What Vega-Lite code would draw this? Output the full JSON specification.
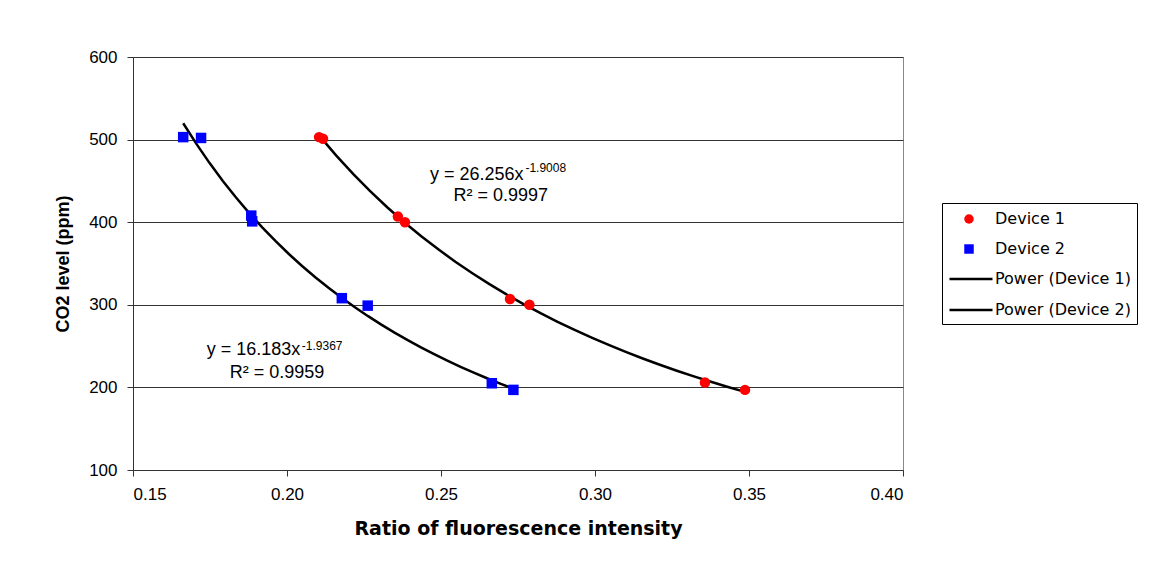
{
  "$schema": "https://vega.github.io/schema/vega-lite/v6.json",
  "width": 770,
  "height": 413,
  "autosize": {"type": "none"},
  "padding": {"left": 133, "top": 57, "right": 258, "bottom": 106},
  "background": "white",
  "config": {
    "font": "Liberation Sans",
    "view": {"stroke": "#888888", "strokeWidth": 1}
  },
  "data": {
    "values": [
      {"ratio": 0.2104, "co2": 503, "device": "Device 1", "trend": "Power (Device 1)"},
      {"ratio": 0.2117, "co2": 501, "device": "Device 1", "trend": "Power (Device 1)"},
      {"ratio": 0.2360, "co2": 407, "device": "Device 1", "trend": "Power (Device 1)"},
      {"ratio": 0.2383, "co2": 400, "device": "Device 1", "trend": "Power (Device 1)"},
      {"ratio": 0.2724, "co2": 307, "device": "Device 1", "trend": "Power (Device 1)"},
      {"ratio": 0.2787, "co2": 300, "device": "Device 1", "trend": "Power (Device 1)"},
      {"ratio": 0.3357, "co2": 206, "device": "Device 1", "trend": "Power (Device 1)"},
      {"ratio": 0.3487, "co2": 197, "device": "Device 1", "trend": "Power (Device 1)"},
      {"ratio": 0.1663, "co2": 503, "device": "Device 2", "trend": "Power (Device 2)"},
      {"ratio": 0.1721, "co2": 502, "device": "Device 2", "trend": "Power (Device 2)"},
      {"ratio": 0.1884, "co2": 408, "device": "Device 2", "trend": "Power (Device 2)"},
      {"ratio": 0.1887, "co2": 401, "device": "Device 2", "trend": "Power (Device 2)"},
      {"ratio": 0.2178, "co2": 308, "device": "Device 2", "trend": "Power (Device 2)"},
      {"ratio": 0.2262, "co2": 299, "device": "Device 2", "trend": "Power (Device 2)"},
      {"ratio": 0.2665, "co2": 205, "device": "Device 2", "trend": "Power (Device 2)"},
      {"ratio": 0.2735, "co2": 197, "device": "Device 2", "trend": "Power (Device 2)"}
    ]
  },
  "layer": [
    {
      "transform": [
        {"regression": "co2", "on": "ratio", "groupby": ["trend"], "method": "pow"}
      ],
      "mark": {"type": "line", "strokeWidth": 2.5},
      "encoding": {
        "x": {"field": "ratio", "type": "quantitative"},
        "y": {"field": "co2", "type": "quantitative"},
        "stroke": {
          "field": "trend",
          "type": "nominal",
          "scale": {
            "domain": ["Power (Device 1)", "Power (Device 2)"],
            "range": ["#000000", "#000000"]
          },
          "legend": {
            "title": " ",
            "titleFontSize": 10,
            "titlePadding": 37,
            "orient": "none",
            "legendX": 809,
            "legendY": 146,
            "direction": "vertical",
            "padding": 6,
            "strokeColor": "#000000",
            "fillColor": "transparent",
            "symbolType": "stroke",
            "symbolSize": 1849,
            "symbolStrokeWidth": 2.5,
            "symbolStrokeColor": "#000000",
            "labelFont": "DejaVu Sans",
            "labelFontSize": 16,
            "labelColor": "#000000",
            "labelOffset": 1,
            "rowPadding": -16
          }
        }
      }
    },
    {
      "mark": {"type": "point", "filled": true, "opacity": 1, "size": 110},
      "encoding": {
        "x": {
          "field": "ratio",
          "type": "quantitative",
          "scale": {"domain": [0.15, 0.40], "nice": false, "zero": false},
          "axis": {
            "title": "Ratio of fluorescence intensity",
            "values": [0.15, 0.2, 0.25, 0.3, 0.35, 0.4],
            "format": ".2f",
            "grid": false,
            "domainColor": "#333333",
            "tickColor": "#333333",
            "tickSize": 6,
            "labelPadding": 10,
            "labelFontSize": 17,
            "labelColor": "#000000",
            "labelFont": "Liberation Sans",
            "titleFont": "DejaVu Sans",
            "titleFontSize": 19,
            "titleFontWeight": "bold",
            "titleColor": "#000000",
            "titlePadding": 17
          }
        },
        "y": {
          "field": "co2",
          "type": "quantitative",
          "scale": {"domain": [100, 600], "nice": false, "zero": false},
          "axis": {
            "title": "CO2 level (ppm)",
            "values": [100, 200, 300, 400, 500, 600],
            "grid": true,
            "gridColor": "#333333",
            "gridWidth": 1,
            "domainColor": "#333333",
            "tickColor": "#333333",
            "tickSize": 6,
            "labelPadding": 10,
            "labelFontSize": 17,
            "labelColor": "#000000",
            "labelFont": "Liberation Sans",
            "titleFont": "Liberation Sans",
            "titleFontSize": 18,
            "titleFontWeight": "bold",
            "titleColor": "#000000",
            "titlePadding": 16
          }
        },
        "color": {
          "field": "device",
          "type": "nominal",
          "scale": {
            "domain": ["Device 1", "Device 2"],
            "range": ["#ff0000", "#0000ff"]
          },
          "legend": {
            "title": null,
            "orient": "none",
            "legendX": 815,
            "legendY": 154,
            "direction": "vertical",
            "padding": 0,
            "strokeColor": "transparent",
            "fillColor": "transparent",
            "symbolSize": 90,
            "symbolOffset": 13,
            "labelFont": "DejaVu Sans",
            "labelFontSize": 16,
            "labelColor": "#000000",
            "labelOffset": 18,
            "rowPadding": 14
          }
        },
        "shape": {
          "field": "device",
          "type": "nominal",
          "scale": {
            "domain": ["Device 1", "Device 2"],
            "range": ["circle", "square"]
          },
          "legend": {
            "title": null,
            "orient": "none",
            "legendX": 815,
            "legendY": 154,
            "direction": "vertical",
            "padding": 0,
            "strokeColor": "transparent",
            "fillColor": "transparent",
            "symbolSize": 90,
            "symbolOffset": 13,
            "labelFont": "DejaVu Sans",
            "labelFontSize": 16,
            "labelColor": "#000000",
            "labelOffset": 18,
            "rowPadding": 14
          }
        }
      }
    },
    {
      "data": {"values": [{"t": "y = 26.256x"}]},
      "mark": {"type": "text", "align": "left", "baseline": "alphabetic", "fontSize": 18, "color": "#000000"},
      "encoding": {
        "x": {"datum": 0.24643, "type": "quantitative"},
        "y": {"datum": 451.1, "type": "quantitative"},
        "text": {"field": "t"}
      }
    },
    {
      "data": {"values": [{"t": "-1.9008"}]},
      "mark": {"type": "text", "align": "left", "baseline": "alphabetic", "fontSize": 12, "color": "#000000"},
      "encoding": {
        "x": {"datum": 0.2774, "type": "quantitative"},
        "y": {"datum": 461.1, "type": "quantitative"},
        "text": {"field": "t"}
      }
    },
    {
      "data": {"values": [{"t": "R² = 0.9997"}]},
      "mark": {"type": "text", "align": "center", "baseline": "alphabetic", "fontSize": 18, "color": "#000000"},
      "encoding": {
        "x": {"datum": 0.26942, "type": "quantitative"},
        "y": {"datum": 426.0, "type": "quantitative"},
        "text": {"field": "t"}
      }
    },
    {
      "data": {"values": [{"t": "y = 16.183x"}]},
      "mark": {"type": "text", "align": "left", "baseline": "alphabetic", "fontSize": 18, "color": "#000000"},
      "encoding": {
        "x": {"datum": 0.17393, "type": "quantitative"},
        "y": {"datum": 239.2, "type": "quantitative"},
        "text": {"field": "t"}
      }
    },
    {
      "data": {"values": [{"t": "-1.9367"}]},
      "mark": {"type": "text", "align": "left", "baseline": "alphabetic", "fontSize": 12, "color": "#000000"},
      "encoding": {
        "x": {"datum": 0.2048, "type": "quantitative"},
        "y": {"datum": 245.3, "type": "quantitative"},
        "text": {"field": "t"}
      }
    },
    {
      "data": {"values": [{"t": "R² = 0.9959"}]},
      "mark": {"type": "text", "align": "center", "baseline": "alphabetic", "fontSize": 18, "color": "#000000"},
      "encoding": {
        "x": {"datum": 0.19675, "type": "quantitative"},
        "y": {"datum": 211.0, "type": "quantitative"},
        "text": {"field": "t"}
      }
    }
  ]
}
